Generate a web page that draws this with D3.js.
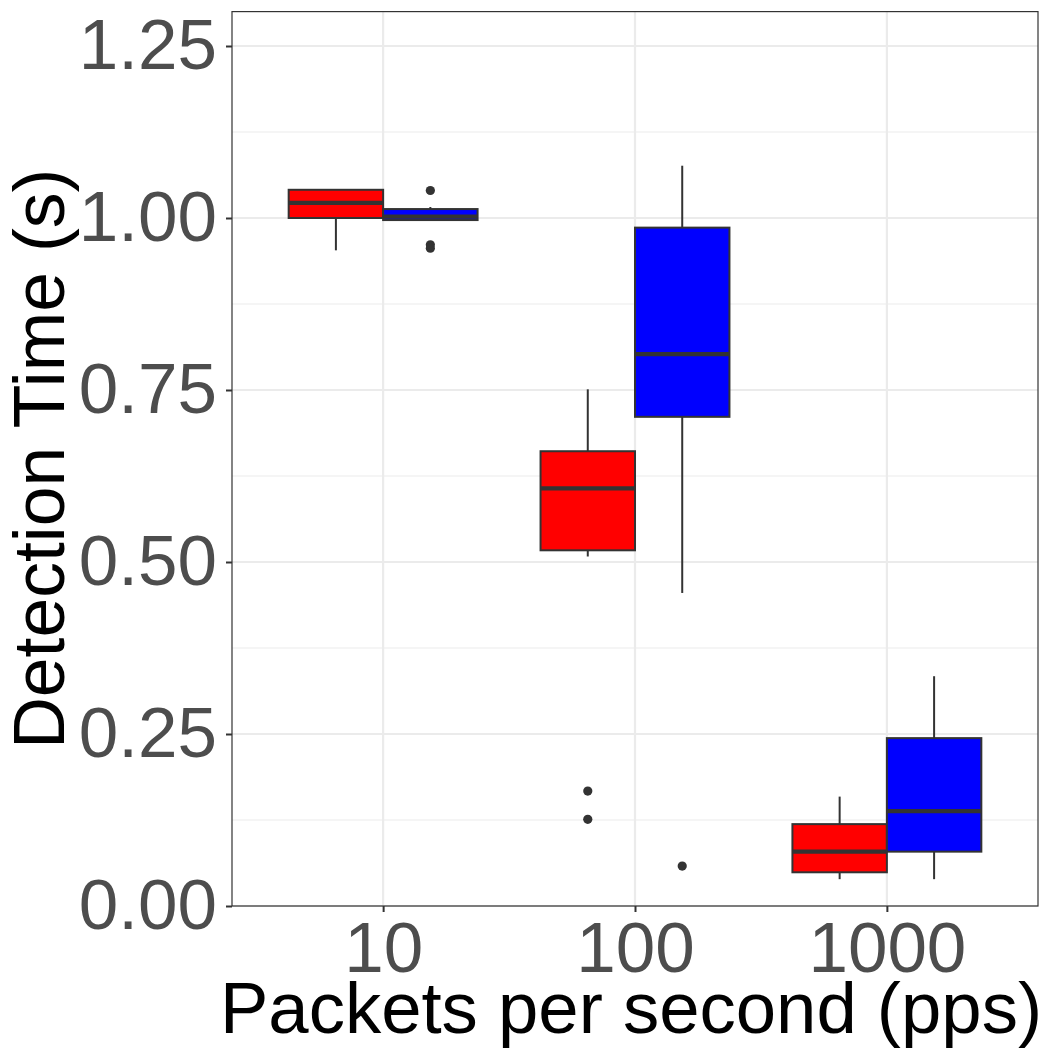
<!DOCTYPE html>
<html>
<head>
<meta charset="utf-8">
<script src="https://cdn.jsdelivr.net/npm/d3@7"></script>
<style>
  body { margin: 0; background: #fff; }
  text { font-family: "Liberation Sans", Arial, Helvetica, sans-serif; }
</style>
</head>
<body>
<div id="chart"></div>
<script>
// Categories and groups
const categories = ["10", "100", "1000"];
const groups = ["red", "blue"];
const yTicks = [0, 0.25, 0.5, 0.75, 1.0, 1.25];
const yMinor = [0.125, 0.375, 0.625, 0.875, 1.125];

// Box statistics (one value per category)
const redLower  = [0.953, 0.508, 0.039];
const redQ1     = [1.000, 0.517, 0.049];
const redMedian = [1.022, 0.607, 0.079];
const redQ3     = [1.041, 0.661, 0.119];
const redUpper  = [1.041, 0.751, 0.159];
const redOut    = [[], [0.167, 0.126], []];

const blueLower  = [0.997, 0.455, 0.039];
const blueQ1     = [0.997, 0.711, 0.079];
const blueMedian = [1.002, 0.802, 0.138];
const blueQ3     = [1.013, 0.986, 0.244];
const blueUpper  = [1.016, 1.076, 0.334];
const blueOut    = [[1.040, 0.961, 0.956], [0.058], []];

const fills = { red: "#FF0000", blue: "#0000FF" };

// Build rows
const rows = [];
categories.forEach((c, i) => {
  rows.push({ cat: c, group: "red", lower: redLower[i], q1: redQ1[i], median: redMedian[i], q3: redQ3[i], upper: redUpper[i], out: redOut[i] });
  rows.push({ cat: c, group: "blue", lower: blueLower[i], q1: blueQ1[i], median: blueMedian[i], q3: blueQ3[i], upper: blueUpper[i], out: blueOut[i] });
});

// Dimensions
const width = 1050, height = 1050;
const panel = { left: 232, right: 1038, top: 11.6, bottom: 906 };

const svg = d3.select("#chart")
  .append("svg")
  .attr("width", width)
  .attr("height", height);

svg.append("rect").attr("width", width).attr("height", height).attr("fill", "#fff");

// Scales
const x = d3.scalePoint()
  .domain(categories)
  .range([panel.left, panel.right])
  .padding(0.6);

const step = x.step();
const xSub = d3.scaleBand()
  .domain(groups)
  .range([-0.375 * step, 0.375 * step]);

const y = d3.scaleLinear()
  .domain([0, 1.3])
  .range([panel.bottom, panel.top]);

// Grid
const grid = svg.append("g");
grid.selectAll(".minor")
  .data(yMinor)
  .enter().append("line")
  .attr("x1", panel.left).attr("x2", panel.right)
  .attr("y1", d => y(d)).attr("y2", d => y(d))
  .attr("stroke", "#EBEBEB").attr("stroke-width", 1.1);
grid.selectAll(".major")
  .data(yTicks)
  .enter().append("line")
  .attr("x1", panel.left).attr("x2", panel.right)
  .attr("y1", d => y(d)).attr("y2", d => y(d))
  .attr("stroke", "#EBEBEB").attr("stroke-width", 2.2);
grid.selectAll(".vmajor")
  .data(categories)
  .enter().append("line")
  .attr("x1", d => x(d)).attr("x2", d => x(d))
  .attr("y1", panel.top).attr("y2", panel.bottom)
  .attr("stroke", "#EBEBEB").attr("stroke-width", 2.2);

// Boxes
const boxes = svg.append("g")
  .selectAll("g")
  .data(rows)
  .enter().append("g")
  .attr("transform", d => `translate(${x(d.cat) + xSub(d.group)}, 0)`);

const bw = xSub.bandwidth();

boxes.append("line")
  .attr("x1", bw / 2).attr("x2", bw / 2)
  .attr("y1", d => y(d.upper)).attr("y2", d => y(d.q3))
  .attr("stroke", "#333333").attr("stroke-width", 2);
boxes.append("line")
  .attr("x1", bw / 2).attr("x2", bw / 2)
  .attr("y1", d => y(d.q1)).attr("y2", d => y(d.lower))
  .attr("stroke", "#333333").attr("stroke-width", 2);
boxes.append("rect")
  .attr("x", 0)
  .attr("width", bw)
  .attr("y", d => y(d.q3))
  .attr("height", d => y(d.q1) - y(d.q3))
  .attr("fill", d => fills[d.group])
  .attr("stroke", "#333333").attr("stroke-width", 2);
boxes.append("line")
  .attr("x1", 0).attr("x2", bw)
  .attr("y1", d => y(d.median)).attr("y2", d => y(d.median))
  .attr("stroke", "#333333").attr("stroke-width", 4.2);
boxes.selectAll("circle")
  .data(d => d.out)
  .enter().append("circle")
  .attr("cx", bw / 2)
  .attr("cy", d => y(d))
  .attr("r", 4.6)
  .attr("fill", "#333333");

// Panel border
svg.append("rect")
  .attr("x", panel.left).attr("y", panel.top)
  .attr("width", panel.right - panel.left)
  .attr("height", panel.bottom - panel.top)
  .attr("fill", "none")
  .attr("stroke", "#333333").attr("stroke-width", 1.2);

// Axes
const yAxis = svg.append("g")
  .attr("transform", `translate(${panel.left}, 0)`)
  .call(d3.axisLeft(y).tickValues(yTicks).tickFormat(d3.format(".2f")).tickSize(6).tickPadding(9));
const xAxis = svg.append("g")
  .attr("transform", `translate(0, ${panel.bottom})`)
  .call(d3.axisBottom(x).tickSize(6).tickPadding(10));

[yAxis, xAxis].forEach(a => {
  a.select(".domain").remove();
  a.selectAll(".tick line").attr("stroke", "#333333").attr("stroke-width", 2);
  a.selectAll(".tick text")
    .attr("fill", "#4D4D4D")
    .style("font-size", "71px")
    .style("font-family", "'Liberation Sans', Arial, sans-serif");
});

// Axis titles
svg.append("text")
  .attr("x", (panel.left + panel.right) / 2 - 4)
  .attr("y", 1033)
  .attr("text-anchor", "middle")
  .style("font-size", "72.5px")
  .attr("fill", "#000")
  .text("Packets per second (pps)");

svg.append("text")
  .attr("transform", `translate(64, ${(panel.top + panel.bottom) / 2}) rotate(-90)`)
  .attr("text-anchor", "middle")
  .style("font-size", "71.5px")
  .attr("fill", "#000")
  .text("Detection Time (s)");
</script>
</body>
</html>
